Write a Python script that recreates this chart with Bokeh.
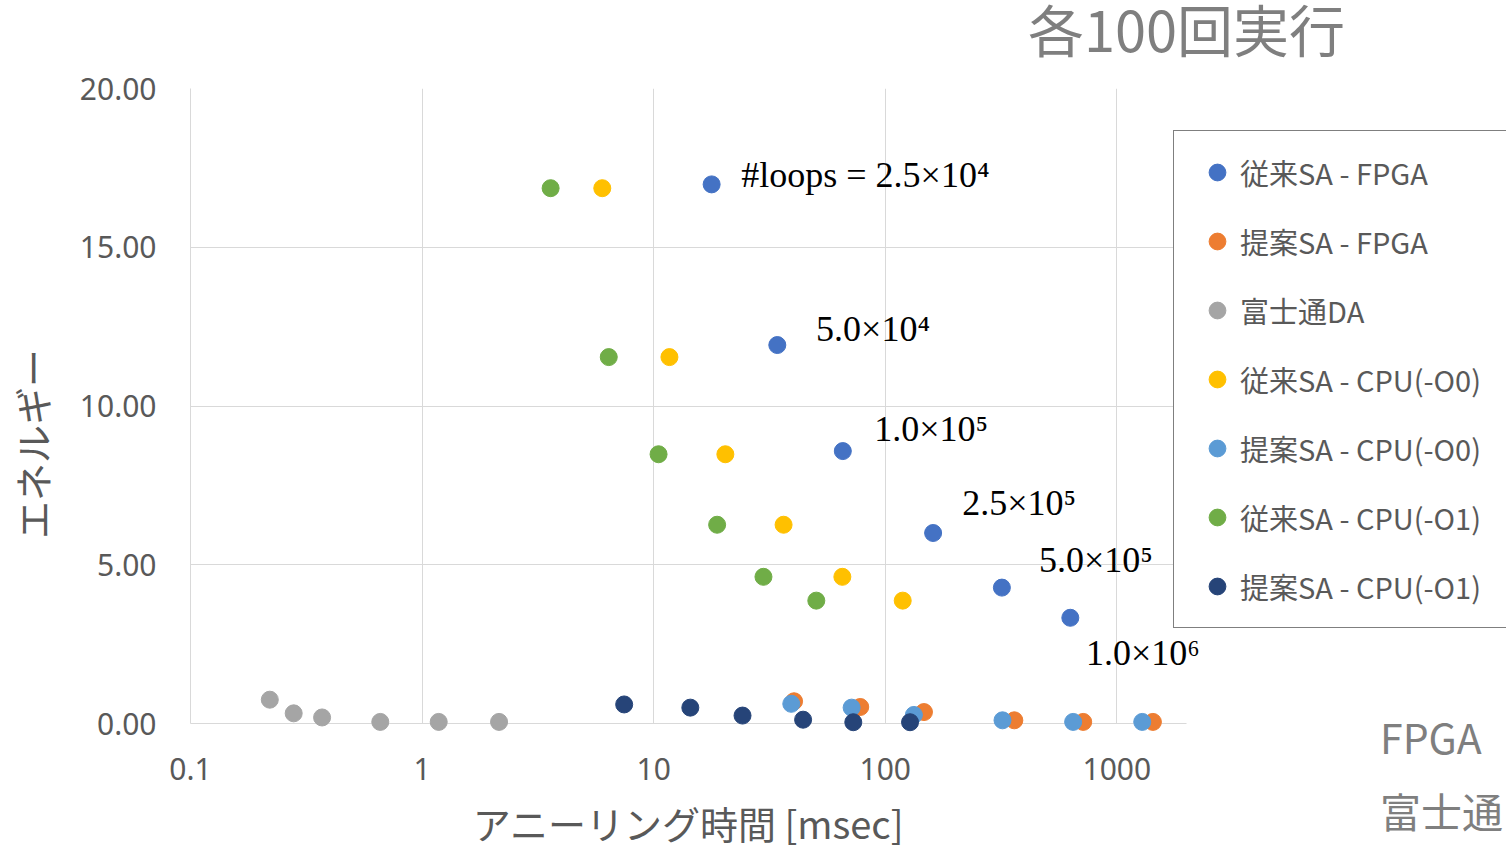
from bokeh.plotting import figure
from bokeh.models import (Range1d, FixedTicker, NumeralTickFormatter, Legend, LegendItem)
from bokeh.core.properties import value
from bokeh.embed import file_html
from bokeh.resources import INLINE

# ---- data ----
series_names = [
    "従来SA - FPGA",
    "提案SA - FPGA",
    "富士通DA",
    "従来SA - CPU(-O0)",
    "提案SA - CPU(-O0)",
    "従来SA - CPU(-O1)",
    "提案SA - CPU(-O1)",
]

conv_fpga_time = [17.8, 34.2, 65.6, 161, 319, 630]
conv_fpga_energy = [16.98, 11.92, 8.58, 6.00, 4.28, 3.33]

prop_fpga_time = [40.4, 78, 147, 361, 716, 1432]
prop_fpga_energy = [0.70, 0.52, 0.36, 0.10, 0.05, 0.05]

fujitsu_da_time = [0.22, 0.279, 0.37, 0.66, 1.18, 2.15]
fujitsu_da_energy = [0.75, 0.32, 0.19, 0.05, 0.05, 0.05]

conv_cpu_o0_time = [6.0, 11.7, 20.4, 36.4, 65.3, 119]
conv_cpu_o0_energy = [16.86, 11.54, 8.48, 6.26, 4.62, 3.87]

prop_cpu_o0_time = [39.3, 71.6, 133, 321, 648, 1288]
prop_cpu_o0_energy = [0.62, 0.50, 0.27, 0.10, 0.05, 0.05]

conv_cpu_o1_time = [3.59, 6.4, 10.5, 18.8, 29.8, 50.4]
conv_cpu_o1_energy = [16.86, 11.54, 8.48, 6.26, 4.62, 3.87]

prop_cpu_o1_time = [7.46, 14.4, 24.2, 44.2, 72.8, 128]
prop_cpu_o1_energy = [0.60, 0.50, 0.25, 0.12, 0.04, 0.04]

x_tick_values = [0.1, 1, 10, 100, 1000]
x_tick_labels = ["0.1", "1", "10", "100", "1000"]
y_tick_values = [0, 5, 10, 15, 20]

x_axis_title = "アニーリング時間 [msec]"
y_axis_title = "エネルギー"

loop_labels = ["#loops = 2.5×10⁴", "5.0×10⁴", "1.0×10⁵", "2.5×10⁵", "5.0×10⁵", "1.0×10⁶"]

title_text = "各100回実行"
side_texts = ["FPGA", "富士通"]

# ---- positions of the free texts (data coordinates) ----
loop_label_x = [23.9, 50.3, 89.7, 215, 461, 736]
loop_label_y = [17.29, 12.44, 9.28, 6.94, 5.14, 2.21]
title_x, title_y = 2000, 21.93
side_x = [13700, 13700]
side_y = [-0.38, -2.74]

# ---- styles ----
series_colors = ["#4472C4", "#ED7D31", "#A5A5A5", "#FFC000", "#5B9BD5", "#70AD47", "#264478"]
JP = "Noto Sans CJK JP"
GRID = "#d9d9d9"
TXT = "#595959"

p = figure(
    width=1506, height=852,
    x_axis_type="log",
    x_range=Range1d(0.1, 2000), y_range=Range1d(0, 20),
    output_backend="svg", toolbar_location=None,
    min_border_left=190, min_border_right=320,
    min_border_top=88, min_border_bottom=129,
    x_axis_label=x_axis_title,
    # trailing ideographic spaces move the (rotated) title a little lower, as in the reference
    y_axis_label=y_axis_title + "\u3000\u3000",
)
p.outline_line_color = None
p.background_fill_color = "white"

series = [
    (conv_fpga_time, conv_fpga_energy),
    (prop_fpga_time, prop_fpga_energy),
    (fujitsu_da_time, fujitsu_da_energy),
    (conv_cpu_o0_time, conv_cpu_o0_energy),
    (prop_cpu_o0_time, prop_cpu_o0_energy),
    (conv_cpu_o1_time, conv_cpu_o1_energy),
    (prop_cpu_o1_time, prop_cpu_o1_energy),
]
items = []
for name, (xs, ys), col in zip(series_names, series, series_colors):
    r = p.scatter(xs, ys, size=17, fill_color=col, line_color=col)
    r.level = "overlay"
    items.append(LegendItem(label=name, renderers=[r]))

# axes
p.xaxis.ticker = FixedTicker(ticks=x_tick_values)
p.xaxis.major_label_overrides = {v: s for v, s in zip(x_tick_values, x_tick_labels)}
p.yaxis.ticker = FixedTicker(ticks=y_tick_values)
p.yaxis.formatter = NumeralTickFormatter(format="0.00")
for ax in (p.xaxis[0], p.yaxis[0]):
    ax.axis_line_color = GRID
    ax.major_tick_line_color = None
    ax.minor_tick_line_color = None
    ax.major_label_text_font = "Noto Sans"
    ax.major_label_text_font_size = "30px"
    ax.major_label_text_color = TXT
    ax.axis_label_text_font = JP
    ax.axis_label_text_font_size = "38px"
    ax.axis_label_text_color = TXT
    ax.axis_label_text_font_style = "normal"
p.xaxis.major_label_standoff = 28
p.xaxis.axis_label_standoff = 12
p.yaxis.major_label_standoff = 28
p.yaxis.axis_label_standoff = 18

p.xgrid.grid_line_color = GRID
p.ygrid.grid_line_color = GRID

# legend (in the right side panel so it is not clipped to the frame);
# a negative margin keeps the side panel from widening the border
leg = Legend(items=items, location=(-13, 95), orientation="vertical", ncols=1)
leg.padding = 20
leg.spacing = 27
leg.glyph_width = 46
leg.glyph_height = 42
leg.label_standoff = 0
leg.label_width = 254
leg.label_height = 42
leg.label_text_font = JP
leg.label_text_font_size = "29px"
leg.label_text_color = TXT
leg.border_line_color = "black"
leg.border_line_width = 1.5
leg.background_fill_color = "white"
leg.background_fill_alpha = 1.0
leg.margin = -300
p.add_layout(leg, "right")

# loop-count annotations (text glyphs, not clipped)
t1 = p.text(x=loop_label_x, y=loop_label_y, text=loop_labels,
            text_font=value("Liberation Serif"), text_font_size="36px",
            text_color="black", text_align="left", text_baseline="alphabetic")
t1.level = "overlay"

t2 = p.text(x=[title_x], y=[title_y], text=[title_text],
            text_font=value(JP), text_font_size="56px", text_color="#7f7f7f",
            text_align="center", text_baseline="middle")
t2.level = "overlay"

t3 = p.text(x=side_x, y=side_y, text=side_texts,
            text_font=value(JP), text_font_size="41px", text_color="#7f7f7f",
            text_align="left", text_baseline="middle")
t3.level = "overlay"

open("out.html", "w").write(file_html(p, INLINE))
